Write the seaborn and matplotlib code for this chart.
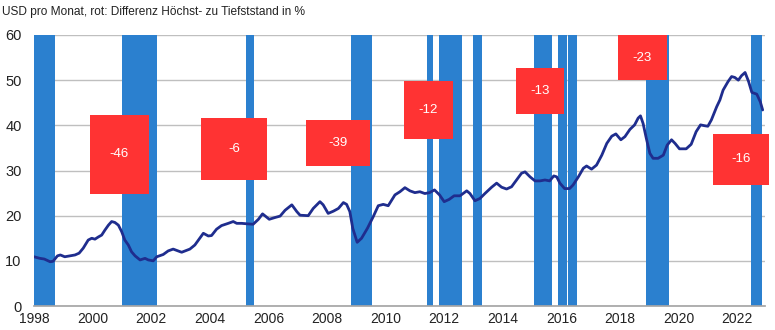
import matplotlib
matplotlib.use("Agg")
import matplotlib.pyplot as plt
from matplotlib.patches import Rectangle
import seaborn as sns
import pandas as pd

# ---- data -------------------------------------------------------------
years = [1998.00, 1998.20, 1998.35, 1998.55, 1998.65, 1998.80, 1998.90, 1999.05,
         1999.23, 1999.40, 1999.54, 1999.68, 1999.85, 1999.97, 2000.08, 2000.20,
         2000.31, 2000.42, 2000.54, 2000.65, 2000.76, 2000.88, 2000.99, 2001.10,
         2001.22, 2001.33, 2001.45, 2001.62, 2001.79, 2001.90, 2002.07, 2002.19,
         2002.41, 2002.58, 2002.75, 2003.04, 2003.32, 2003.49, 2003.78, 2003.95,
         2004.06, 2004.23, 2004.40, 2004.63, 2004.80, 2004.92, 2005.09, 2005.26,
         2005.48, 2005.66, 2005.80, 2006.03, 2006.23, 2006.40, 2006.57, 2006.80,
         2006.97, 2007.08, 2007.36, 2007.53, 2007.76, 2007.87, 2008.04, 2008.22,
         2008.39, 2008.56, 2008.67, 2008.78, 2008.88, 2009.03, 2009.18, 2009.38,
         2009.58, 2009.75, 2009.92, 2010.09, 2010.32, 2010.49, 2010.66, 2010.83,
         2011.00, 2011.17, 2011.34, 2011.50, 2011.67, 2011.84, 2012.00, 2012.17,
         2012.34, 2012.54, 2012.77, 2012.88, 2013.05, 2013.22, 2013.39, 2013.62,
         2013.79, 2013.96, 2014.13, 2014.30, 2014.47, 2014.64, 2014.76, 2014.93,
         2015.10, 2015.27, 2015.44, 2015.60, 2015.74, 2015.84, 2015.95, 2016.11,
         2016.28, 2016.40, 2016.58, 2016.75, 2016.86, 2017.03, 2017.20, 2017.38,
         2017.55, 2017.72, 2017.86, 2018.03, 2018.17, 2018.34, 2018.50, 2018.62,
         2018.70, 2018.79, 2018.90, 2019.02, 2019.13, 2019.30, 2019.48, 2019.61,
         2019.76, 2019.88, 2020.03, 2020.26, 2020.43, 2020.60, 2020.75, 2020.90,
         2021.00, 2021.12, 2021.30, 2021.41, 2021.52, 2021.69, 2021.81, 2021.92,
         2022.04, 2022.15, 2022.27, 2022.39, 2022.50, 2022.67, 2022.79, 2022.87]
price = [10.9, 10.55, 10.4, 9.8, 9.9, 11.1, 11.3, 10.9,
         11.1, 11.3, 11.7, 12.8, 14.6, 15.0, 14.8, 15.3,
         15.7, 16.8, 17.9, 18.7, 18.5, 17.9, 16.5, 14.6,
         13.5, 12.0, 11.1, 10.2, 10.55, 10.2, 10.0, 10.9,
         11.4, 12.2, 12.6, 11.9, 12.6, 13.5, 16.1, 15.5,
         15.6, 17.0, 17.8, 18.3, 18.7, 18.3, 18.3, 18.2,
         18.1, 19.2, 20.4, 19.2, 19.6, 19.9, 21.2, 22.4,
         20.9, 20.1, 20.0, 21.6, 23.1, 22.4, 20.5, 21.0,
         21.6, 22.9, 22.5, 20.9, 17.2, 14.1, 15.0, 17.2,
         19.8, 22.2, 22.5, 22.2, 24.6, 25.3, 26.2, 25.5,
         25.1, 25.3, 24.9, 25.1, 25.7, 24.6, 23.1, 23.6,
         24.4, 24.4, 25.5, 24.9, 23.3, 23.8, 24.9, 26.3,
         27.2, 26.3, 25.9, 26.4, 27.9, 29.4, 29.7, 28.6,
         27.7, 27.7, 27.9, 27.7, 28.8, 28.6, 27.2, 26.0,
         26.0, 26.8, 28.6, 30.5, 31.0, 30.3, 31.2, 33.4,
         36.0, 37.6, 38.1, 36.8, 37.5, 39.1, 40.1, 41.6,
         42.1, 40.4, 37.1, 33.8, 32.7, 32.7, 33.4, 35.6,
         36.8, 36.0, 34.8, 34.8, 35.8, 38.6, 40.1, 39.9,
         39.8, 41.2, 44.1, 45.6, 47.8, 49.7, 50.8, 50.6,
         50.0, 51.0, 51.7, 49.7, 47.3, 46.9, 45.2, 43.4]

# shaded periods (start, end in decimal years)
span_start = [1998.00, 2001.00, 2005.24, 2008.82, 2011.41, 2011.82,
              2012.97, 2015.06, 2015.89, 2016.24, 2018.89, 2022.47]
span_end = [1998.72, 2002.21, 2005.52, 2009.54, 2011.61, 2012.61,
            2013.28, 2015.69, 2016.18, 2016.52, 2019.67, 2022.85]

# red annotation boxes
box_labels = ["-46", "-6", "-39", "-12", "-13", "-23", "-16"]
box_x0 = [1999.91, 2003.70, 2007.28, 2010.63, 2014.45, 2017.93, 2021.17]
box_x1 = [2001.92, 2005.95, 2009.47, 2012.30, 2016.09, 2019.59, 2023.10]
box_y0 = [24.9, 27.9, 31.1, 37.0, 42.5, 50.0, 26.9]
box_y1 = [42.2, 41.7, 41.2, 49.8, 52.6, 60.0, 38.1]

xtick_years = list(range(1998, 2023, 2))
ytick_vals = [0, 10, 20, 30, 40, 50, 60]

title = "USD pro Monat, rot: Differenz Höchst- zu Tiefststand in %"

# ---- plot -------------------------------------------------------------
sns.set_theme(style="white")
plt.rcParams["font.family"] = ["Liberation Sans", "DejaVu Sans"]

fig = plt.figure(figsize=(7.75, 3.3), dpi=100)
ax = fig.add_axes([34 / 775, 1 - 306 / 330, (765 - 34) / 775, (306 - 35) / 330])

for s, e in zip(span_start, span_end):
    ax.axvspan(s, e, color="#2b80cf", lw=0, zorder=1)

df = pd.DataFrame({"year": years, "price": price})
sns.lineplot(data=df, x="year", y="price", ax=ax, color="#1f2d8e", lw=2,
             zorder=3, estimator=None, sort=False)

for lab, x0, x1, y0, y1 in zip(box_labels, box_x0, box_x1, box_y0, box_y1):
    ax.add_patch(Rectangle((x0, y0), x1 - x0, y1 - y0, facecolor="#ff3333",
                           edgecolor="none", zorder=4, clip_on=False))
    ax.text((x0 + x1) / 2, (y0 + y1) / 2, lab, color="white", fontsize=9.5,
            ha="center", va="center", zorder=5)

ax.set_xlim(1998, 2022.95)
ax.set_ylim(0, 60)
ax.set_xticks(xtick_years)
ax.set_xticklabels([str(y) for y in xtick_years], fontsize=10)
ax.set_yticks(ytick_vals)
ax.set_yticklabels([str(v) for v in ytick_vals], fontsize=10.5)
ax.tick_params(axis="both", length=0, pad=4, colors="#222222")
ax.tick_params(axis="y", pad=9)
ax.yaxis.grid(True, color="#bfbfbf", lw=1)
ax.set_axisbelow(True)
ax.set_xlabel("")
ax.set_ylabel("")
for side in ["left", "right", "top"]:
    ax.spines[side].set_visible(False)
ax.spines["bottom"].set_color("#a6a6a6")

fig.text(2 / 775, 1 - 12 / 330, title, fontsize=8.6, ha="left", va="center",
         color="#222222")

fig.savefig("out.png", dpi=100)
